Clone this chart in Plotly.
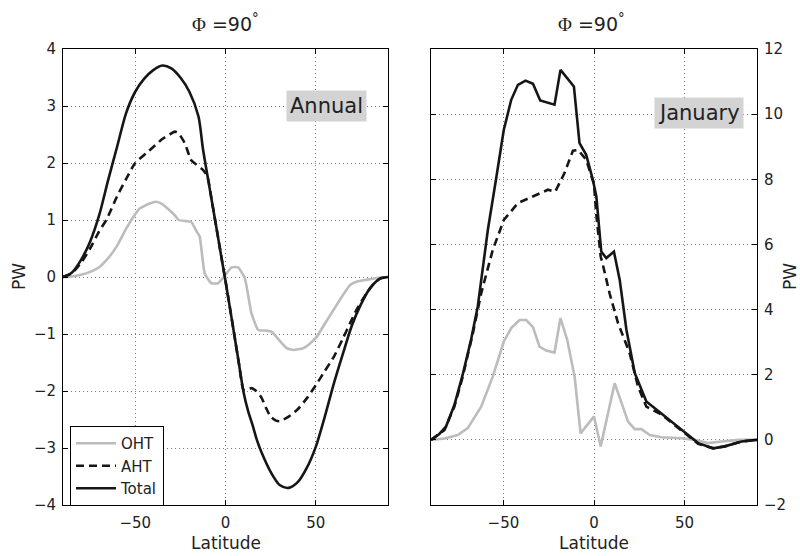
import plotly.graph_objects as go

# ---------------- data ----------------
# Left panel: Annual
lat_ann_total = [-90, -85, -80, -75, -70, -65, -60, -55, -50, -45, -40, -35, -30, -25, -20, -15,
                 -12.5, -10, -7.5, -5, -2.5, 0, 2.5, 5, 7.5, 10, 12.5, 15, 17.5, 20, 25, 30, 35,
                 40, 45, 50, 55, 60, 65, 70, 75, 80, 85, 90]
total_ann = [0, 0.08, 0.3, 0.62, 1.08, 1.7, 2.29, 2.88, 3.25, 3.48, 3.63, 3.71, 3.66, 3.5, 3.25, 2.82,
             2.25, 1.78, 1.32, 0.86, 0.39, -0.07, -0.55, -1.04, -1.53, -2.02, -2.35, -2.6, -2.87, -3.08,
             -3.42, -3.65, -3.7, -3.6, -3.35, -2.98, -2.45, -1.87, -1.35, -0.85, -0.48, -0.2, -0.04, 0]

lat_ann_aht = [-90, -85, -80, -75, -70, -66, -60, -55, -50, -44, -40, -35, -31, -28, -26, -22.6,
               -19, -16, -12.5, -10, -7.5, -5, -2.5, 0, 2.5, 5, 7.5, 10, 12, 14.4, 17, 20, 22.5,
               25, 28, 30, 35, 40, 45, 50, 55, 60, 65, 69, 73, 78, 82, 86, 90]
aht_ann = [0, 0.07, 0.25, 0.5, 0.8, 1.0, 1.42, 1.72, 2.0, 2.17, 2.28, 2.42, 2.5, 2.55, 2.52, 2.35,
           2.05, 1.97, 1.88, 1.76, 1.32, 0.86, 0.39, -0.07, -0.55, -1.04, -1.53, -1.98, -1.98, -1.95,
           -2.0, -2.12, -2.3, -2.45, -2.52, -2.53, -2.45, -2.32, -2.13, -1.9, -1.65, -1.4, -1.08,
           -0.81, -0.55, -0.29, -0.12, -0.02, 0]

lat_ann_oht = [-90, -85, -80, -75, -70, -65, -60, -55, -50, -47.6, -42, -38.5, -35, -31, -28, -26,
               -22, -19, -16, -14.3, -11.5, -7.8, -4.1, -0.4, 3.3, 7, 10.7, 14.4, 18.1, 21.8, 25.5,
               31.1, 34, 37.6, 43, 46.7, 50.5, 55, 59.8, 65, 69, 73, 78, 85.7, 90]
oht_ann = [0, 0.01, 0.04, 0.09, 0.17, 0.33, 0.55, 0.85, 1.1, 1.2, 1.29, 1.32, 1.28, 1.17, 1.08, 1.0,
           0.98, 0.97, 0.8, 0.71, 0.06, -0.11, -0.11, 0.02, 0.17, 0.17, -0.02, -0.64, -0.93, -0.94,
           -0.96, -1.16, -1.25, -1.28, -1.25, -1.17, -1.05, -0.82, -0.58, -0.32, -0.14, -0.08, -0.05,
           -0.01, 0]

# Right panel: January
lat_jan_total = [-90, -85.4, -81.7, -77.1, -72.5, -67.9, -64.2, -60.5, -58.6, -54, -49.8, -45.7, -42,
                 -37.8, -33.7, -29.7, -21.8, -18.5, -11.1, -8, -4.3, -0.6, 1.3, 4, 6.8, 11, 14.2, 17.9,
                 22.5, 28.9, 37.2, 46.4, 52, 57.5, 65.8, 72.2, 81.5, 90]
total_jan = [0, 0.18, 0.41, 1.07, 2.0, 3.07, 4.09, 5.7, 6.45, 8.03, 9.52, 10.44, 10.9, 11.03, 10.93,
             10.42, 10.29, 11.36, 10.85, 9.11, 8.75, 7.98, 7.47, 5.78, 5.58, 5.78, 4.91, 3.38, 2.05,
             1.18, 0.82, 0.41, 0.15, -0.1, -0.26, -0.2, -0.05, 0]

lat_jan_aht = [-90, -82.6, -77.1, -72.5, -66.9, -62.3, -55.9, -49.8, -42, -33.7, -25.4, -21.4, -16.3,
               -11.6, -8.8, -4.3, 0, 1.3, 3.7, 5, 8.6, 13.3, 19.7, 24.3, 28.9, 37.2, 46.4, 52, 57.5,
               65.8, 72.2, 81.5, 90]
aht_jan = [0, 0.3, 1.02, 1.94, 3.27, 4.5, 5.83, 6.75, 7.27, 7.47, 7.68, 7.62, 8.19, 8.88, 8.9, 8.6,
           7.85, 6.9, 5.63, 5.35, 4.5, 3.58, 2.66, 1.64, 1.02, 0.78, 0.38, 0.12, -0.12, -0.26, -0.2,
           -0.05, 0]

lat_jan_oht = [-90, -82.6, -75.2, -69.7, -62.3, -55.9, -49.8, -45.7, -41.1, -37.4, -33.7, -30.1, -26.4,
               -21.8, -18.5, -14.8, -10.7, -7.4, -3.7, 0, 3.7, 11.4, 18.8, 22.5, 26.2, 30.8, 37.2, 48.3,
               55.6, 63, 70.4, 80, 90]
oht_jan = [0, 0.04, 0.15, 0.36, 1.02, 1.94, 3.02, 3.43, 3.68, 3.68, 3.46, 2.86, 2.74, 2.68, 3.74, 3.07,
           1.94, 0.2, 0.46, 0.72, -0.2, 1.74, 0.56, 0.33, 0.33, 0.15, 0.08, 0.05, 0, -0.1, -0.05, 0, 0]

series_names = ["OHT", "AHT", "Total"]
panel_labels = ["Annual", "January"]
panel_title = "<span style=\"font-family:'Liberation Serif'\">Φ</span> =90<sup>°</sup>"
x_ticks = [-50, 0, 50]
y_ticks_left = [-4, -3, -2, -1, 0, 1, 2, 3, 4]
y_ticks_right = [-2, 0, 2, 4, 6, 8, 10, 12]

# ---------------- styling ----------------
FONT = "DejaVu Sans"
GRAY = "#bcbcbc"
BLACK = "#161616"
LW = 2.6

W, H = 800, 556
def px_x(p):
    return p / W
def px_y(p):
    return 1 - p / H

fig = go.Figure()

styles = {
    "OHT": dict(color=GRAY, width=LW),
    "AHT": dict(color=BLACK, width=LW, dash="8px,5px"),
    "Total": dict(color=BLACK, width=LW),
}

left = [(lat_ann_oht, oht_ann), (lat_ann_aht, aht_ann), (lat_ann_total, total_ann)]
right = [(lat_jan_oht, oht_jan), (lat_jan_aht, aht_jan), (lat_jan_total, total_jan)]
left_smooth = {"OHT": 0.4, "AHT": 0.6, "Total": 0.8}

for name, (x, y) in zip(series_names, left):
    st = dict(styles[name], shape="spline", smoothing=left_smooth[name])
    fig.add_trace(go.Scatter(x=x, y=y, mode="lines", name=name, line=st,
                             xaxis="x", yaxis="y", showlegend=True))
for name, (x, y) in zip(series_names, right):
    fig.add_trace(go.Scatter(x=x, y=y, mode="lines", name=name, line=styles[name],
                             xaxis="x2", yaxis="y2", showlegend=False))

ydom = [px_y(505), px_y(49)]
common_axis = dict(showline=True, linecolor="black", linewidth=1, mirror="ticks",
                   ticks="inside", ticklen=5, tickcolor="black", automargin=False,
                   showgrid=True, gridcolor="#7a7a7a", griddash="1px,3px", gridwidth=1,
                   zeroline=False, tickfont=dict(family=FONT, size=15, color="#222"))

fig.update_layout(
    template="none",
    width=W, height=H,
    margin=dict(l=0, r=0, t=0, b=0, pad=0),
    paper_bgcolor="white", plot_bgcolor="white",
    font=dict(family=FONT, color="#222"),
    xaxis=dict(domain=[px_x(63), px_x(388)], range=[-90, 90], tickvals=x_ticks,
               ticktext=["\u221250", "0", "50"], anchor="y", ticklabelstandoff=4, **common_axis),
    yaxis=dict(domain=ydom, range=[-4, 4], tickvals=y_ticks_left,
               ticktext=[("\u2212" + str(-v)) if v < 0 else str(v) for v in y_ticks_left],
               anchor="x", ticklabelstandoff=3, **common_axis),
    xaxis2=dict(domain=[px_x(431), px_x(757)], range=[-90, 90], tickvals=x_ticks,
                ticktext=["\u221250", "0", "50"], anchor="y2", ticklabelstandoff=4, **common_axis),
    yaxis2=dict(domain=ydom, range=[-2, 12], tickvals=y_ticks_right,
                ticktext=[("\u2212" + str(-v)) if v < 0 else str(v) for v in y_ticks_right],
                anchor="x2", side="right", ticklabelstandoff=3, **common_axis),
    legend=dict(x=px_x(70), y=px_y(426), xanchor="left", yanchor="top",
                bgcolor="white", bordercolor="black", borderwidth=1,
                font=dict(family=FONT, size=15, color="#222"), tracegroupgap=0,
                itemwidth=40),
    showlegend=True,
)

def ann(text, x, y, size, **kw):
    return dict(text=text, x=px_x(x), y=px_y(y), xref="paper", yref="paper",
                xanchor="center", yanchor="middle", showarrow=False,
                font=dict(family=FONT, size=size, color="#222"), **kw)

annotations = [
    ann(panel_title, 225, 23, 19),
    ann(panel_title, 591, 23, 19),
    ann(panel_labels[0], 326, 105.5, 21, bgcolor="#d3d3d3", borderpad=3),
    ann(panel_labels[1], 698.5, 113, 21, bgcolor="#d3d3d3", borderpad=3),
    ann("Latitude", 225.5, 543, 17),
    ann("Latitude", 594, 543, 17),
    ann("PW", 19, 277, 17, textangle=-90),
    ann("PW", 790, 277, 17, textangle=-90),
]
fig.update_layout(annotations=annotations)

fig.write_html("out.html")
